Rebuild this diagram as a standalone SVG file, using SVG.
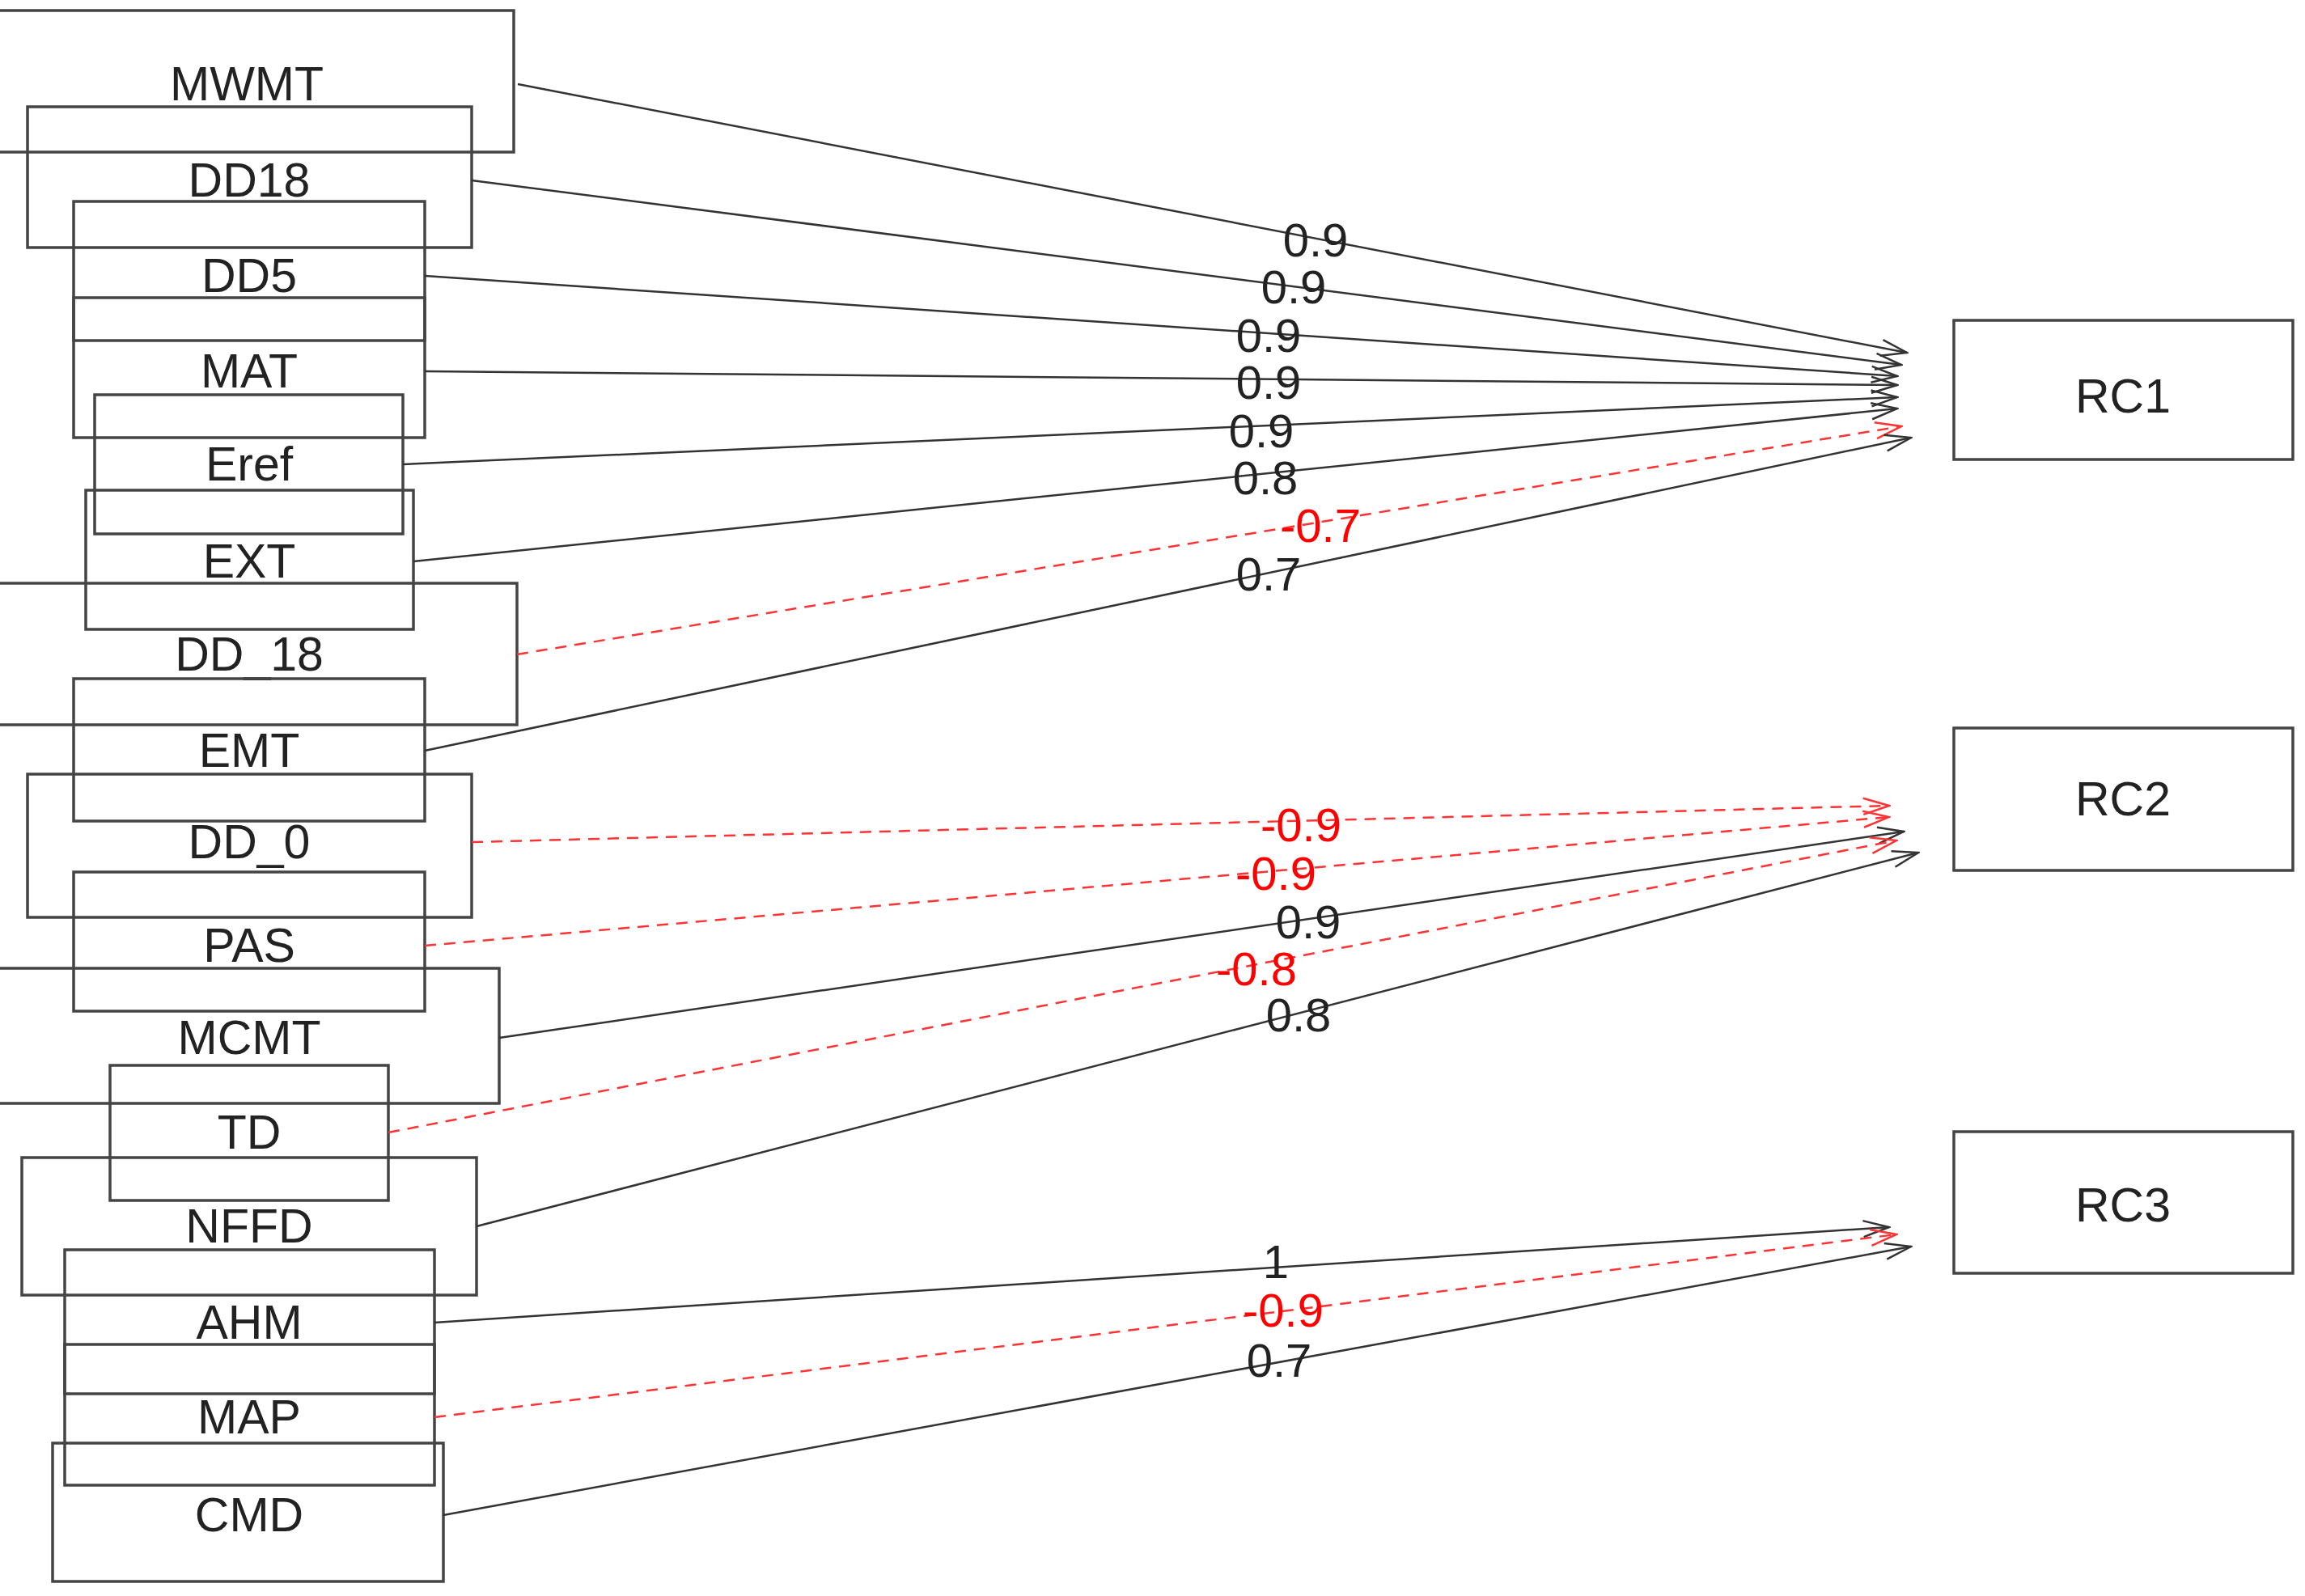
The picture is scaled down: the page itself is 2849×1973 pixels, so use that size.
<svg xmlns="http://www.w3.org/2000/svg" width="2849" height="1973" viewBox="0 0 2849 1973">
<style>
rect{fill:none;stroke:#444;stroke-width:3.5}
text{font-family:"Liberation Sans",Arial,sans-serif;text-anchor:middle;dominant-baseline:central}
.n{font-size:59px;fill:#222}
.l{font-size:58px;fill:#222}
.lr{font-size:58px;fill:#f00}
.e{stroke:#333;stroke-width:2.5;fill:none}
.r{stroke:#f33;stroke-width:2.5;fill:none;stroke-dasharray:14,10}
</style>
<defs>
<marker id="a" markerUnits="userSpaceOnUse" markerWidth="36" markerHeight="24" refX="34" refY="12" orient="auto"><path d="M2,2 L34,12 L2,22" fill="none" stroke="#333" stroke-width="2.5"/></marker>
<marker id="ar" markerUnits="userSpaceOnUse" markerWidth="36" markerHeight="24" refX="34" refY="12" orient="auto"><path d="M2,2 L34,12 L2,22" fill="none" stroke="#f33" stroke-width="2.5"/></marker>
</defs>
<rect x="0" y="0" width="2849" height="1973" style="fill:#fff;stroke:none"/>
<g id="n-MWMT"><rect x="-5" y="13" width="640" height="175"/><text class="n" x="305" y="104">MWMT</text></g>
<g id="n-DD18"><rect x="34" y="132" width="549" height="174"/><text class="n" x="308" y="223">DD18</text></g>
<g id="n-DD5"><rect x="91" y="249" width="434" height="172"/><text class="n" x="308" y="341">DD5</text></g>
<g id="n-MAT"><rect x="91" y="368" width="434" height="173"/><text class="n" x="308" y="459">MAT</text></g>
<g id="n-Eref"><rect x="117" y="488" width="381" height="172"/><text class="n" x="308" y="574">Eref</text></g>
<g id="n-EXT"><rect x="106" y="606" width="405" height="172"/><text class="n" x="308" y="694">EXT</text></g>
<g id="n-DD_18"><rect x="-5" y="721" width="644" height="175"/><text class="n" x="308" y="809">DD_18</text></g>
<g id="n-EMT"><rect x="91" y="839" width="434" height="176"/><text class="n" x="308" y="928">EMT</text></g>
<g id="n-DD_0"><rect x="34" y="957" width="549" height="177"/><text class="n" x="308" y="1041">DD_0</text></g>
<g id="n-PAS"><rect x="91" y="1078" width="434" height="172"/><text class="n" x="308" y="1169">PAS</text></g>
<g id="n-MCMT"><rect x="-5" y="1197" width="622" height="167"/><text class="n" x="308" y="1283">MCMT</text></g>
<g id="n-TD"><rect x="136" y="1317" width="344" height="167"/><text class="n" x="308" y="1400">TD</text></g>
<g id="n-NFFD"><rect x="27" y="1431" width="562" height="170"/><text class="n" x="308" y="1516">NFFD</text></g>
<g id="n-AHM"><rect x="80" y="1545" width="457" height="178"/><text class="n" x="308" y="1635">AHM</text></g>
<g id="n-MAP"><rect x="80" y="1662" width="457" height="174"/><text class="n" x="308" y="1752">MAP</text></g>
<g id="n-CMD"><rect x="65" y="1784" width="483" height="171"/><text class="n" x="308" y="1873">CMD</text></g>
<g id="n-RC1"><rect x="2415" y="396" width="419" height="172"/><text class="n" x="2624" y="490">RC1</text></g>
<g id="n-RC2"><rect x="2415" y="900" width="419" height="176"/><text class="n" x="2624" y="988">RC2</text></g>
<g id="n-RC3"><rect x="2415" y="1399" width="419" height="175"/><text class="n" x="2624" y="1490">RC3</text></g>
<g id="connectors">
<line class="e" x1="640" y1="104" x2="2357" y2="436" marker-end="url(#a)"/>
<line class="e" x1="583" y1="223" x2="2350" y2="451" marker-end="url(#a)"/>
<line class="e" x1="525" y1="341" x2="2345" y2="465" marker-end="url(#a)"/>
<line class="e" x1="525" y1="459" x2="2345" y2="476" marker-end="url(#a)"/>
<line class="e" x1="498" y1="574" x2="2345" y2="491" marker-end="url(#a)"/>
<line class="e" x1="511" y1="694" x2="2345" y2="505" marker-end="url(#a)"/>
<line class="r" x1="639" y1="809" x2="2350" y2="527" marker-end="url(#ar)"/>
<line class="e" x1="525" y1="928" x2="2362" y2="541" marker-end="url(#a)"/>
<line class="r" x1="583" y1="1041" x2="2335" y2="996" marker-end="url(#ar)"/>
<line class="r" x1="525" y1="1169" x2="2335" y2="1010" marker-end="url(#ar)"/>
<line class="e" x1="617" y1="1283" x2="2353" y2="1028" marker-end="url(#a)"/>
<line class="r" x1="480" y1="1400" x2="2344" y2="1039" marker-end="url(#ar)"/>
<line class="e" x1="589" y1="1516" x2="2371" y2="1054" marker-end="url(#a)"/>
<line class="e" x1="537" y1="1635" x2="2335" y2="1517" marker-end="url(#a)"/>
<line class="r" x1="537" y1="1752" x2="2344" y2="1526" marker-end="url(#ar)"/>
<line class="e" x1="548" y1="1873" x2="2362" y2="1541" marker-end="url(#a)"/>
<text class="l" x="1626" y="296">0.9</text>
<text class="l" x="1599" y="354">0.9</text>
<text class="l" x="1568" y="414">0.9</text>
<text class="l" x="1568" y="472">0.9</text>
<text class="l" x="1559" y="532">0.9</text>
<text class="l" x="1564" y="590">0.8</text>
<text class="lr" x="1632" y="649">-0.7</text>
<text class="l" x="1568" y="709">0.7</text>
<text class="lr" x="1608" y="1019">-0.9</text>
<text class="lr" x="1577" y="1079">-0.9</text>
<text class="l" x="1617" y="1139">0.9</text>
<text class="lr" x="1553" y="1197">-0.8</text>
<text class="l" x="1605" y="1254">0.8</text>
<text class="l" x="1577" y="1559">1</text>
<text class="lr" x="1586" y="1619">-0.9</text>
<text class="l" x="1581" y="1681">0.7</text>
</g>
</svg>
